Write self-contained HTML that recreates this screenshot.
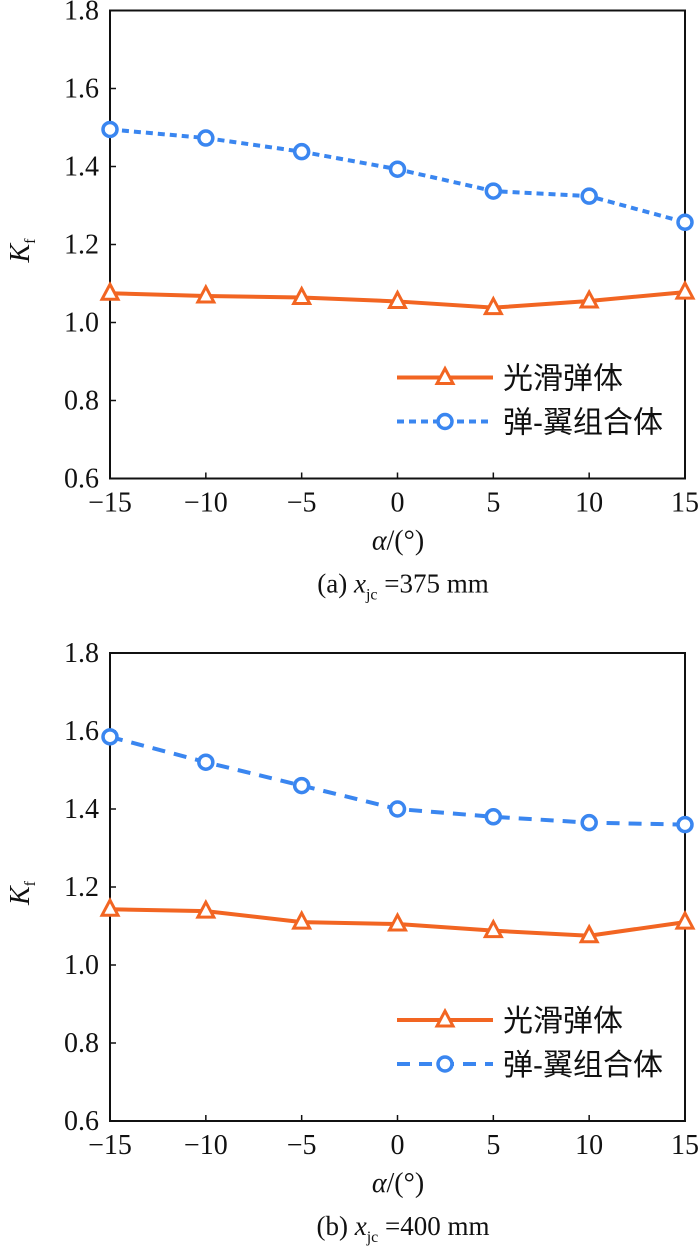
<!DOCTYPE html>
<html><head><meta charset="utf-8"><style>
body{margin:0;background:#fff}
svg{display:block}
text{font-family:"Liberation Serif","Noto Serif CJK SC",serif;fill:#111}
.cj{font-family:"Liberation Sans","Noto Sans CJK SC",sans-serif}
</style></head><body>
<svg id="svg" width="700" height="1253" viewBox="0 0 700 1253" xmlns="http://www.w3.org/2000/svg"></svg>
<script>
const categories=[-15,-10,-5,0,5,10,15];
const xTickLabels=["\u221215","\u221210","\u22125","0","5","10","15"];
const yTicks=[0.6,0.8,1.0,1.2,1.4,1.6,1.8];
const yTickLabels=["0.6","0.8","1.0","1.2","1.4","1.6","1.8"];
const smoothA=[1.075,1.068,1.064,1.054,1.038,1.055,1.078];
const comboA=[1.495,1.473,1.438,1.393,1.337,1.324,1.257];
const smoothB=[1.143,1.138,1.110,1.105,1.088,1.075,1.110];
const comboB=[1.585,1.520,1.460,1.400,1.380,1.365,1.360];
const legendNames=["光滑弹体","弹-翼组合体"];

const NS="http://www.w3.org/2000/svg";
const svg=document.getElementById('svg');
function mk(tag,attrs,parent){const e=document.createElementNS(NS,tag);for(const k in attrs)e.setAttribute(k,attrs[k]);(parent||svg).appendChild(e);return e;}
const L=110,R=685,H=468;
function xs(v){return L+(v+15)/30*(R-L);}
function panel(top,smooth,combo,dash,label,cap,tag){
  const g=mk('g',{});
  
  
  const B=top+H;
  const ys=v=>B-(v-0.6)/1.2*H;
  const frame=mk('rect',{x:L,y:top,width:R-L,height:H,fill:'none',stroke:'#111','stroke-width':2},g);
  
  
  yTicks.forEach((t,i)=>{
    const y=ys(t);
    mk('line',{x1:L,x2:L+6,y1:y,y2:y,stroke:'#111','stroke-width':1.5},g);
    const tx=mk('text',{x:99,y:y+9,'text-anchor':'end','font-size':28},g);
    tx.textContent=yTickLabels[i];
    
    
  });
  categories.forEach((c,i)=>{
    const x=xs(c);
    mk('line',{x1:x,x2:x,y1:B,y2:B-6,stroke:'#111','stroke-width':1.5},g);
    const tx=mk('text',{x:x,y:B+33,'text-anchor':'middle','font-size':28},g);
    tx.textContent=xTickLabels[i];
    
    
  });
  const yt=mk('text',{x:0,y:0,'font-size':28,'font-style':'italic',transform:`translate(29,${top+252}) rotate(-90)`},g);
  yt.innerHTML='K<tspan font-size="16" dy="6" font-style="normal">f</tspan>';
  
  
  const xt=mk('text',{x:398,y:B+71,'text-anchor':'middle','font-size':28},g);
  xt.innerHTML='<tspan font-style="italic">α</tspan>/(°)';
  
  
  const ct=mk('text',{x:403,y:B+114,'text-anchor':'middle','font-size':27},g);
  ct.innerHTML='('+label+') <tspan font-style="italic">x</tspan><tspan font-size="16" dy="7">jc</tspan><tspan dy="-7"> =</tspan>'+cap+' mm';
  
  
  const pts=a=>a.map((v,i)=>xs(categories[i])+','+ys(v)).join(' ');
  const l1=mk('polyline',{points:pts(smooth),fill:'none',stroke:'#f26522','stroke-width':4},g);
  
  
  const l2=mk('polyline',{points:pts(combo),fill:'none',stroke:'#3a86f0','stroke-width':4,'stroke-dasharray':dash},g);
  
  
  const tri=(x,y)=>`${x},${y-9} ${x+8},${y+6} ${x-8},${y+6}`;
  smooth.forEach((v,i)=>{
    const p=mk('polygon',{points:tri(xs(categories[i]),ys(v)),fill:'#fff',stroke:'#f26522','stroke-width':3},g);
    
    
  });
  combo.forEach((v,i)=>{
    const p=mk('circle',{cx:xs(categories[i]),cy:ys(v),r:7,fill:'#fff',stroke:'#3a86f0','stroke-width':3.5},g);
    
    
  });
  const ly1=top+367, ly2=top+411;
  const lg=mk('g',{},g);
  
  
  mk('line',{x1:397,x2:493,y1:ly1,y2:ly1,stroke:'#f26522','stroke-width':4},lg);
  mk('polygon',{points:tri(445,ly1),fill:'#fff',stroke:'#f26522','stroke-width':3},lg);
  mk('line',{x1:397,x2:493,y1:ly2,y2:ly2,stroke:'#3a86f0','stroke-width':4,'stroke-dasharray':dash},lg);
  mk('circle',{cx:445,cy:ly2,r:7,fill:'#fff',stroke:'#3a86f0','stroke-width':3.5},lg);
  const t1=mk('text',{x:503,y:ly1+11,'font-size':30,class:'cj'},lg);t1.textContent=legendNames[0];
  
  
  const t2=mk('text',{x:503,y:ly2+11,'font-size':30,class:'cj'},lg);t2.textContent=legendNames[1];
  
  
}
panel(10.5,smoothA,comboA,'7 5','a','375','a');
panel(653,smoothB,comboB,'13 9','b','400','b');
</script>
</body></html>
